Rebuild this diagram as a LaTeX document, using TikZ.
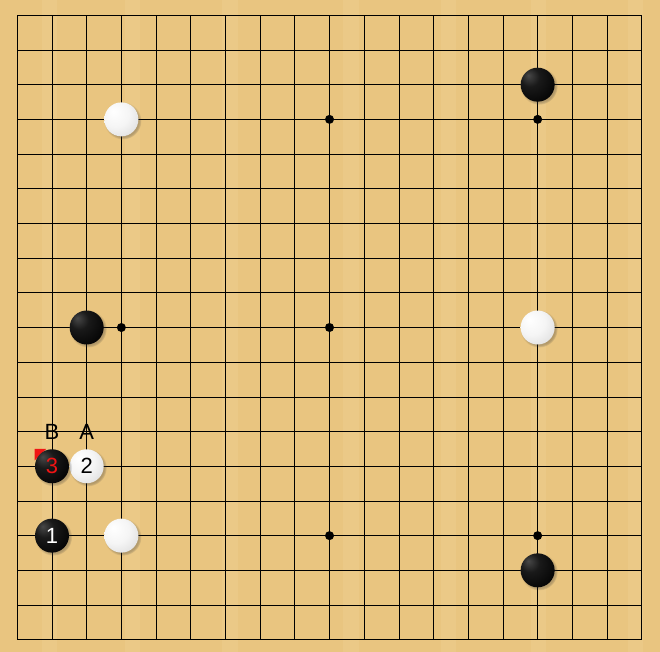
\documentclass[tikz,border=0pt]{standalone}
\usepackage{fontspec}
\setsansfont{Liberation Sans}
\usetikzlibrary{shadows}

\definecolor{wood}{RGB}{233,197,128}
\definecolor{woodlight}{RGB}{242,212,152}
\definecolor{lastmove}{RGB}{240,20,20}

\pgfdeclareradialshading{whiteball}{\pgfpoint{-12bp}{12bp}}{%
  color(0bp)=(white); color(20bp)=(white!96!black);
  color(44bp)=(white!84!black); color(60bp)=(white!70!black); color(70bp)=(white!65!black)}
\pgfdeclareradialshading{blackball}{\pgfpoint{-14bp}{14bp}}{%
  color(0bp)=(black!72); color(14bp)=(black!90); color(40bp)=(black);
  color(58bp)=(black!92); color(70bp)=(black!80)}

\tikzset{
  stone/.style={circle,minimum size=34pt,inner sep=0pt,
    font=\sffamily\fontsize{22}{22}\selectfont,
    circular drop shadow={shadow xshift=1.3pt,shadow yshift=-1.3pt,opacity=.3,fill=black!80}},
  black stone/.style={stone,shading=blackball,text=white},
  white stone/.style={stone,shading=whiteball,text=black},
  gridline/.style={line width=0.7pt,black},
  boardlabel/.style={font=\sffamily\fontsize{22}{22}\selectfont,inner sep=0pt}
}

\begin{document}
\begin{tikzpicture}[x=34.69pt,y=-34.69pt]
  % board
  \useasboundingbox (-0.4987,-0.441) rectangle (18.527,18.354);
  \fill[wood] (-0.4987,-0.441) rectangle (18.527,18.354);
  \foreach \g in {0.7,3.1,5.9,9.4,12.2,14.8,17.6}
    \fill[woodlight,opacity=.3] (\g,-0.441) rectangle (\g+0.45,18.354);

  % grid
  \foreach \i in {1,...,17} {
    \draw[gridline] (\i,0) -- (\i,18);
    \draw[gridline] (0,\i) -- (18,\i);
  }
  \draw[line width=1.1pt,black] (0,0) rectangle (18,18);

  % star points
  \foreach \x/\y in {3/3,9/3,15/3,3/9,9/9,15/9,3/15,9/15,15/15}
    \fill (\x,\y) circle (0.13);

  % last move marker
  \fill[lastmove] (0.5,12.5) -- (0.83,12.5) -- (0.5,12.83) -- cycle;

  % stones
  \node[white stone] (w1) at (3,3) {};
  \node[black stone] (b1) at (15,2) {};
  \node[black stone] (b2) at (2,9) {};
  \node[white stone] (w2) at (15,9) {};
  \node[white stone] (w3) at (3,15) {};
  \node[black stone] (b3) at (15,16) {};
  \node[black stone] (m1) at (1,15) {1};
  \node[white stone] (m2) at (2,13) {2};
  \node[black stone,text=lastmove] (m3) at (1,13) {3};

  % labels
  \node[boardlabel] (A) at (2,12) {A};
  \node[boardlabel] (B) at (1,12) {B};
\end{tikzpicture}
\end{document}
